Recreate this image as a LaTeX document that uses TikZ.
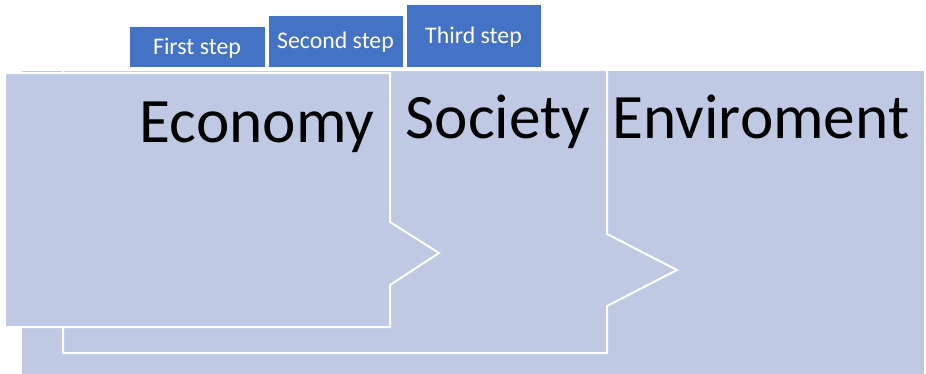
\documentclass[tikz,border=0pt]{standalone}
\usepackage{fontspec}
\setmainfont{Carlito}
\definecolor{panelblue}{RGB}{191,201,227}
\definecolor{tabblue}{RGB}{68,114,196}
\tikzset{
  panel/.style={fill=panelblue, draw=white, line width=2pt, line join=miter},
  bigtext/.style={inner sep=0pt, anchor=base, text=black, font=\fontsize{63.3}{64}\selectfont},
  tab/.style={fill=tabblue, draw=white, line width=1pt, text=white, inner sep=0pt,
    text height=15.3pt, text depth=0pt, font=\fontsize{23.8}{24}\selectfont},
}
\begin{document}
\begin{tikzpicture}[x=1pt,y=-1pt]
\useasboundingbox (0,0) rectangle (926,373);
% back panel (Enviroment)
\path[panel] (21,70) rectangle (925,390);
% middle panel (Society)
\path[panel] (63,70) -- (607,70) -- (607,234) -- (677,270) -- (607,306)
  -- (607,353) -- (63,353) -- cycle;
% front panel (Economy)
\path[panel] (5,73) -- (390,73) -- (390,222) -- (439,253) -- (390,285)
  -- (390,327) -- (5,327) -- cycle;
% labels
\node[bigtext] (economy) at (257,142) {Economy};
\node[bigtext] (society) at (498,138) {Society};
\node[bigtext] (enviroment) at (761,138) {Enviroment};
% tabs
\node[tab, minimum width=136pt, minimum height=41pt] (first) at (197,46.5) {First step};
\node[tab, minimum width=135pt, minimum height=52pt] (second) at (335.5,41) {Second step};
\node[tab, minimum width=135pt, minimum height=63pt] (third) at (473.5,35.5) {Third step};
\end{tikzpicture}
\end{document}
